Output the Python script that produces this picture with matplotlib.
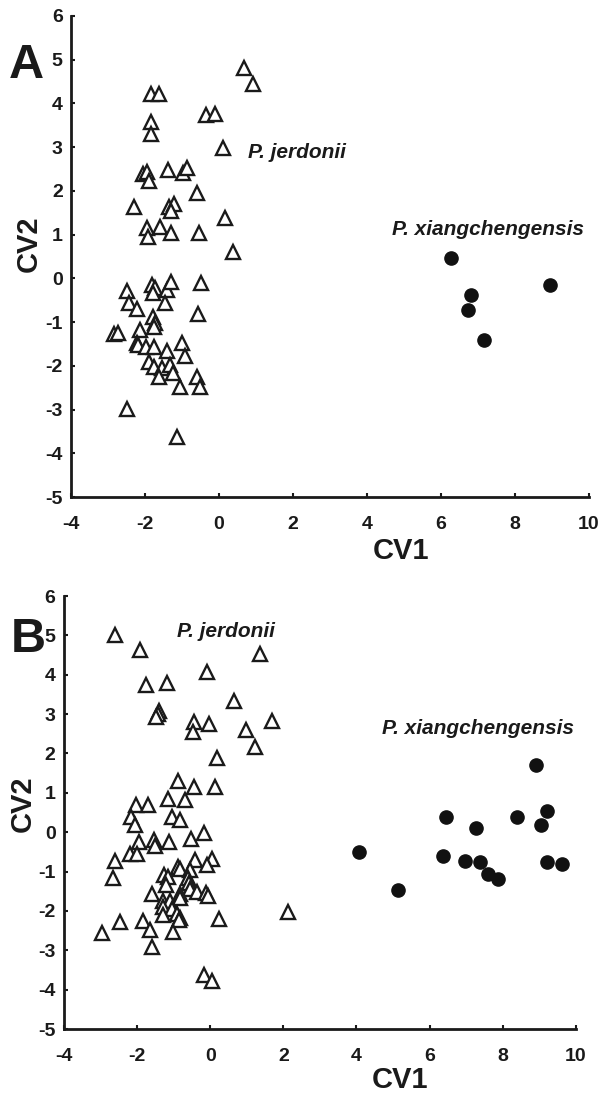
import matplotlib.pyplot as plt

plt.rcParams['font.family'] = ['Liberation Sans', 'DejaVu Sans']
plt.rcParams['font.weight'] = 'bold'
plt.rcParams['axes.unicode_minus'] = False

# panel A - P. jerdonii (triangles)
a_jer_x = [0.68, 0.92, -1.84, -1.62, -1.84, -1.84, -0.35, -0.11, 0.11, -2.05,
           -1.95, -1.89, -1.38, -0.97, -0.86, -0.60, -2.30, -1.35, -1.22, -1.30,
           0.16, -1.95, -1.59, -1.30, -0.54, -1.92, 0.38, -2.49, -2.43, -2.22,
           -1.81, -1.73, -1.78, -1.41, -1.30, -1.46, -0.49, -0.57, -1.78, -1.73,
           -1.76, -2.84, -2.73, -2.14, -2.22, -2.18, -1.97, -1.76, -1.41, -1.00,
           -0.92, -1.89, -1.76, -1.54, -1.32, -1.24, -1.62, -1.05, -0.59, -0.51,
           -2.49, -1.14]
a_jer_y = [4.81, 4.44, 4.22, 4.22, 3.58, 3.30, 3.73, 3.76, 2.98, 2.38,
           2.43, 2.22, 2.48, 2.41, 2.52, 1.95, 1.63, 1.63, 1.70, 1.54,
           1.38, 1.15, 1.17, 1.03, 1.03, 0.94, 0.60, -0.29, -0.57, -0.71,
           -0.16, -0.23, -0.34, -0.27, -0.09, -0.57, -0.11, -0.82, -0.89, -1.02,
           -1.12, -1.28, -1.25, -1.19, -1.48, -1.53, -1.58, -1.58, -1.65, -1.48,
           -1.78, -1.92, -2.03, -2.05, -1.99, -2.17, -2.26, -2.49, -2.26, -2.49,
           -2.99, -3.63]
# panel A - P. xiangchengensis (dots)
a_xia_x = [6.27, 8.95, 6.81, 6.73, 7.16]
a_xia_y = [0.46, -0.16, -0.38, -0.73, -1.41]

# panel B - P. jerdonii
b_jer_x = [-2.61, -1.92, -1.76, -1.19, -1.40, -1.43, -1.49, -0.09, 1.36, 0.64,
           -0.45, -0.48, -0.04, 0.97, 1.68, 1.22, 0.18, -0.89, -0.45, 0.13,
           -2.03, -1.70, -1.16, -0.69, -2.17, -1.05, -0.83, -2.06, -0.17, -1.95,
           -1.54, -1.51, -1.13, -0.53, -2.20, -2.00, -2.61, -2.66, -0.42, 0.04,
           -0.09, -0.89, -0.83, -0.56, -1.27, -1.16, -0.61, -0.58, -1.21, -0.56,
           -1.60, -0.83, -0.37, -0.12, -0.07, -1.30, -1.10, -0.83, -1.30, -1.05,
           -1.30, -0.91, -0.83, -0.85, 0.24, 2.12, -2.47, -1.84, -1.65, -1.02,
           -2.96, -1.60, -0.17, 0.04]
b_jer_y = [5.01, 4.63, 3.74, 3.79, 3.08, 3.00, 2.93, 4.07, 4.53, 3.34,
           2.80, 2.55, 2.75, 2.60, 2.83, 2.17, 1.89, 1.30, 1.15, 1.15,
           0.70, 0.70, 0.85, 0.82, 0.39, 0.39, 0.31, 0.19, -0.02, -0.24,
           -0.19, -0.35, -0.24, -0.17, -0.55, -0.55, -0.73, -1.16, -0.70, -0.68,
           -0.83, -0.88, -0.93, -0.95, -1.08, -1.13, -1.16, -1.28, -1.33, -1.44,
           -1.56, -1.56, -1.51, -1.54, -1.61, -1.74, -1.74, -1.66, -1.89, -1.94,
           -2.10, -2.07, -2.17, -2.22, -2.20, -2.02, -2.27, -2.25, -2.48, -2.53,
           -2.55, -2.91, -3.62, -3.77]
# panel B - P. xiangchengensis
b_xia_x = [8.92, 9.22, 6.46, 8.38, 9.06, 7.26, 4.06, 6.38, 6.98, 7.37,
           9.20, 9.63, 7.61, 7.86, 5.13]
b_xia_y = [1.71, 0.54, 0.39, 0.39, 0.19, 0.11, -0.50, -0.60, -0.73, -0.75,
           -0.75, -0.80, -1.06, -1.18, -1.46]

xticks = [-4, -2, 0, 2, 4, 6, 8, 10]
yticks = [-5, -4, -3, -2, -1, 0, 1, 2, 3, 4, 5, 6]

fig = plt.figure(figsize=(6.03, 10.94), dpi=100)
axA = fig.add_axes([0.1177, 0.5457, 0.859, 0.4397])
axB = fig.add_axes([0.106, 0.0594, 0.849, 0.3958])


def style(ax, letter, lx, ly):
    ax.set_xlim(-4, 10)
    ax.set_ylim(-5, 6)
    ax.set_xticks(xticks)
    ax.set_yticks(yticks)
    for s in ['top', 'right']:
        ax.spines[s].set_visible(False)
    for s in ['left', 'bottom']:
        ax.spines[s].set_linewidth(2.0)
        ax.spines[s].set_color('#1a1a1a')
    ax.tick_params(direction='in', length=3, width=1.5, labelsize=14, colors='#1a1a1a')
    ax.tick_params(axis='x', pad=14)
    ax.tick_params(axis='y', pad=6)
    ax.set_xlabel('CV1', fontsize=21, fontweight='bold', color='#1a1a1a')
    ax.set_ylabel('CV2', fontsize=21, fontweight='bold', color='#1a1a1a')
    fig.text(lx, ly, letter, fontsize=35, fontweight='bold', ha='center', va='center',
             color='#1a1a1a')


def draw(ax, jx, jy, xx, xy):
    ax.plot(jx, jy, linestyle='none', marker='^', ms=9.5, mfc='white', mec='#1a1a1a',
            mew=1.7, clip_on=False)
    ax.plot(xx, xy, linestyle='none', marker='o', ms=9.5, mfc='#111111', mec='#111111',
            clip_on=False)


draw(axA, a_jer_x, a_jer_y, a_xia_x, a_xia_y)
style(axA, 'A', 26 / 603, 1 - 66 / 1094)
axA.xaxis.set_label_coords(0.637, -0.083)
axA.yaxis.set_label_coords(-0.054, 0.526)
axA.text(0.78, 2.75, 'P. jerdonii', fontsize=15, fontweight='bold', style='italic',
         color='#1a1a1a')
axA.text(4.68, 0.99, 'P. xiangchengensis', fontsize=15, fontweight='bold', style='italic',
         color='#1a1a1a')

draw(axB, b_jer_x, b_jer_y, b_xia_x, b_xia_y)
style(axB, 'B', 28 / 603, 1 - 639 / 1094)
axB.xaxis.set_label_coords(0.656, -0.085)
axB.yaxis.set_label_coords(-0.053, 0.52)
axB.text(-0.91, 4.96, 'P. jerdonii', fontsize=15, fontweight='bold', style='italic',
         color='#1a1a1a')
axB.text(4.69, 2.50, 'P. xiangchengensis', fontsize=15, fontweight='bold', style='italic',
         color='#1a1a1a')

fig.savefig('out.png', dpi=100)
